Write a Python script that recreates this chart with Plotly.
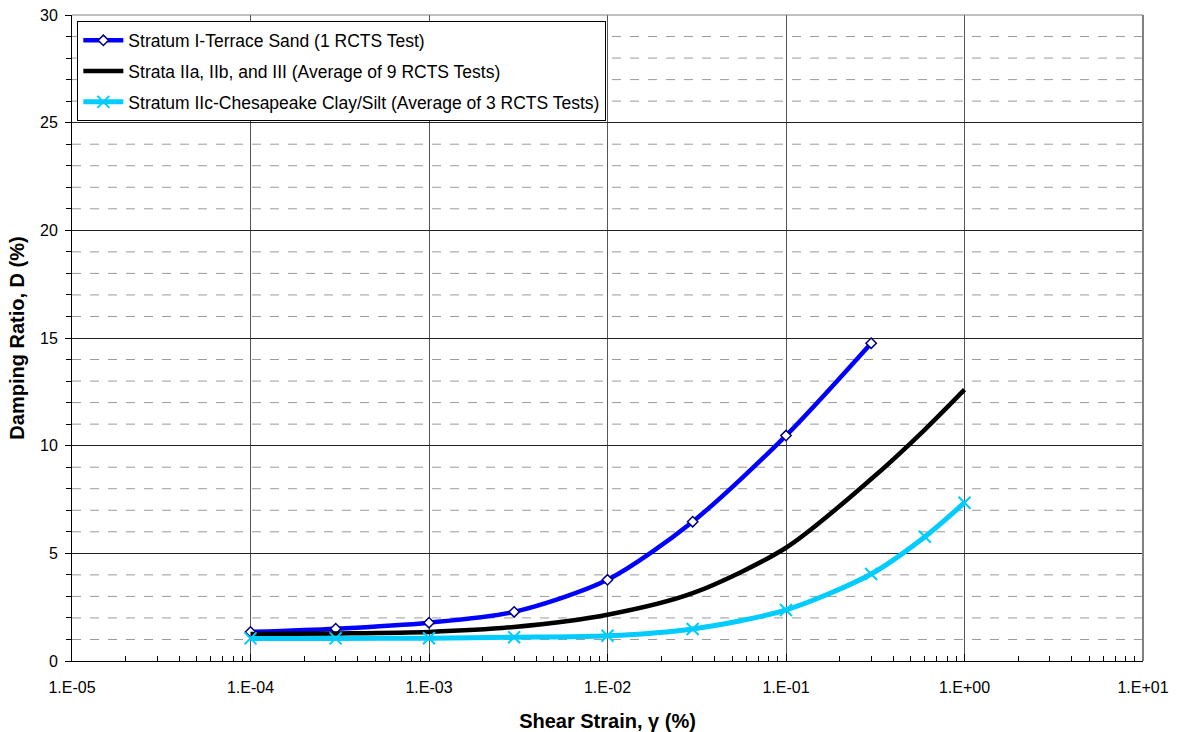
import plotly.graph_objects as go

# Shear strain (%) and damping ratio (%) per stratum
strain_sand = [1e-4, 3e-4, 1e-3, 3e-3, 1e-2, 3e-2, 1e-1, 3e-1]
damping_sand = [1.35, 1.5, 1.78, 2.28, 3.77, 6.47, 10.47, 14.76]

strain_avg = [1e-4, 3e-4, 1e-3, 3e-3, 1e-2, 3e-2, 1e-1, 3e-1, 6e-1, 1.0]
damping_avg = [1.25, 1.28, 1.35, 1.58, 2.15, 3.15, 5.26, 8.45, 10.75, 12.6]

strain_clay = [1e-4, 3e-4, 1e-3, 3e-3, 1e-2, 3e-2, 1e-1, 3e-1, 6e-1, 1.0]
damping_clay = [1.05, 1.05, 1.06, 1.1, 1.17, 1.49, 2.37, 4.04, 5.77, 7.35]

names = [
    "Stratum I-Terrace Sand (1 RCTS Test)",
    "Strata IIa, IIb, and III (Average of 9 RCTS Tests)",
    "Stratum IIc-Chesapeake Clay/Silt (Average of 3 RCTS Tests)",
]

x_tick_vals = [1e-5, 1e-4, 1e-3, 1e-2, 1e-1, 1e0, 1e1]
x_tick_text = ["1.E-05", "1.E-04", "1.E-03", "1.E-02", "1.E-01", "1.E+00", "1.E+01"]
y_tick_vals = [0, 5, 10, 15, 20, 25, 30]

x_minor_vals = [m * d for d in x_tick_vals[:-1] for m in range(2, 10)]
y_minor_vals = [v for v in range(0, 31) if v % 5 != 0]

FONT = "Liberation Sans, Arial, sans-serif"

fig = go.Figure()

# dashed minor horizontal grid lines
for v in y_minor_vals:
    fig.add_shape(type="line", xref="paper", x0=0, x1=1, yref="y", y0=v, y1=v,
                  line=dict(color="#9a9a9a", width=1, dash="dash"), layer="below")

fig.add_trace(go.Scatter(
    x=strain_sand, y=damping_sand, name=names[0], mode="lines+markers",
    legendgroup="g1",
    line=dict(color="#0000FF", width=4.5, shape="spline", smoothing=0.8),
    marker=dict(symbol="diamond", size=8, color="white",
                line=dict(color="#000080", width=1.5)),
))
fig.add_trace(go.Scatter(
    x=strain_avg, y=damping_avg, name=names[1], mode="lines",
    legendgroup="g2",
    line=dict(color="#000000", width=4.5, shape="spline", smoothing=0.8),
))
fig.add_trace(go.Scatter(
    x=strain_clay, y=damping_clay, name=names[2], mode="lines+markers",
    legendgroup="g3",
    line=dict(color="#00CCFF", width=5, shape="spline", smoothing=0.8),
    marker=dict(symbol="x-thin", size=12, color="#00CCFF",
                line=dict(color="#00CCFF", width=2)),
))

fig.update_layout(
    width=1181, height=732,
    margin=dict(l=72, r=38, t=15, b=71),
    paper_bgcolor="white", plot_bgcolor="white",
    font=dict(family=FONT, size=16, color="black"),
    showlegend=True,
    legend=dict(
        x=0.005, y=0.99, xanchor="left", yanchor="top",
        bgcolor="white", bordercolor="black", borderwidth=1,
        font=dict(family=FONT, size=17.5), itemwidth=40,
        traceorder="grouped", tracegroupgap=5,
    ),
)

fig.update_xaxes(
    type="log", range=[-5, 1], automargin=False,
    tickmode="array", tickvals=x_tick_vals, ticktext=x_tick_text,
    ticks="inside", ticklen=7, tickcolor="black", ticklabelstandoff=12,
    showgrid=True, gridcolor="#555555", gridwidth=1,
    showline=True, linecolor="black", linewidth=1, mirror=False,
    zeroline=False,
    minor=dict(tickmode="array", tickvals=x_minor_vals, ticks="inside",
               ticklen=5, tickcolor="black", showgrid=False),
    title=dict(text="<b>Shear Strain, γ (%)</b>", font=dict(family=FONT, size=20),
               standoff=19),
)
fig.update_yaxes(
    range=[0, 30], automargin=False,
    tickmode="array", tickvals=y_tick_vals,
    ticks="outside", ticklen=6, tickcolor="black", ticklabelstandoff=4,
    showgrid=True, gridcolor="#222222", gridwidth=1,
    showline=True, linecolor="black", linewidth=1,
    zeroline=False,
    minor=dict(tickmode="array", tickvals=y_minor_vals, ticks="outside",
               ticklen=5, tickcolor="black", showgrid=False),
    title=dict(text="<b>Damping Ratio, D (%)</b>", font=dict(family=FONT, size=20),
               standoff=10),
)

# plot frame: top and right edges in grey
fig.add_shape(type="line", xref="paper", yref="paper", x0=0, x1=1, y0=1, y1=1,
              line=dict(color="#808080", width=1))
fig.add_shape(type="line", xref="paper", yref="paper", x0=1, x1=1, y0=0, y1=1,
              line=dict(color="#808080", width=2))

fig.write_html("out.html")
